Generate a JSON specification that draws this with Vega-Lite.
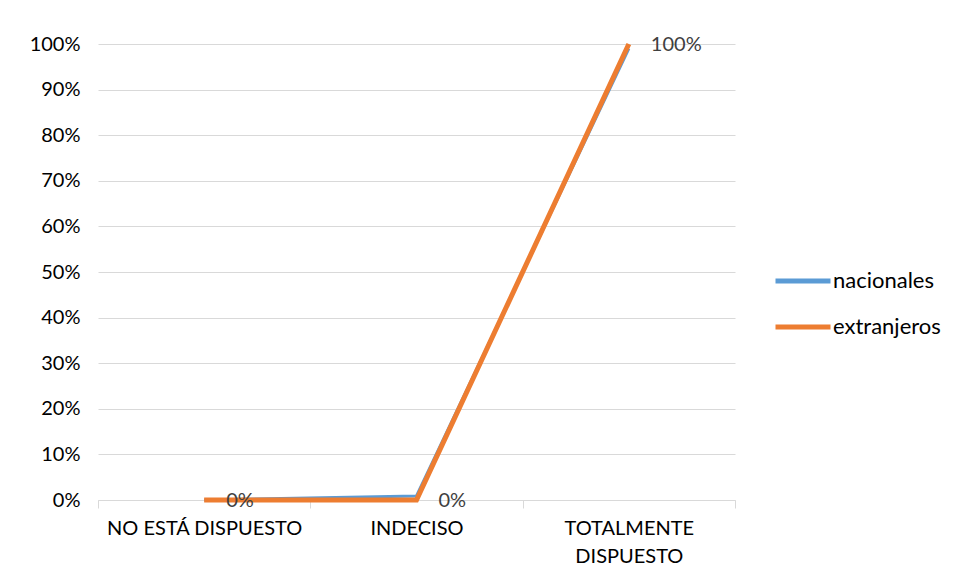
{
  "$schema": "https://vega.github.io/schema/vega-lite/v6.json",
  "autosize": {"type": "none"},
  "width": 637,
  "height": 456,
  "padding": {"left": 98, "top": 44, "right": 219, "bottom": 81},
  "background": "white",
  "config": {
    "view": {"stroke": null},
    "font": "Lato"
  },
  "data": {
    "values": [
      {"cat": "NO ESTÁ DISPUESTO", "serie": "nacionales", "valor": 0.0, "label": ""},
      {"cat": "INDECISO", "serie": "nacionales", "valor": 0.009, "label": ""},
      {"cat": "TOTALMENTE DISPUESTO", "serie": "nacionales", "valor": 0.99, "label": ""},
      {"cat": "NO ESTÁ DISPUESTO", "serie": "extranjeros", "valor": 0.0, "label": "0%"},
      {"cat": "INDECISO", "serie": "extranjeros", "valor": 0.0, "label": "0%"},
      {"cat": "TOTALMENTE DISPUESTO", "serie": "extranjeros", "valor": 1.0, "label": "100%"}
    ]
  },
  "encoding": {
    "x": {
      "field": "cat",
      "type": "nominal",
      "sort": null,
      "bandPosition": 0.5,
      "scale": {"type": "band", "paddingInner": 0, "paddingOuter": 0},
      "axis": {
        "title": null,
        "labelAngle": 0,
        "labelFontSize": 20,
        "labelColor": "#000000",
        "labelPadding": 10,
        "labelLineHeight": 28,
        "labelLimit": 400,
        "labelOverlap": false,
        "labelExpr": "datum.label == 'TOTALMENTE DISPUESTO' ? ['TOTALMENTE', 'DISPUESTO'] : datum.label",
        "domainColor": "#d9d9d9",
        "tickColor": "#d9d9d9",
        "tickSize": 8,
        "tickBand": "extent",
        "grid": false
      }
    },
    "y": {
      "field": "valor",
      "type": "quantitative",
      "scale": {"domain": [0, 1], "nice": false},
      "axis": {
        "title": null,
        "format": ".0%",
        "values": [0, 0.1, 0.2, 0.3, 0.4, 0.5, 0.6, 0.7, 0.8, 0.9, 1.0],
        "labelOverlap": false,
        "domain": false,
        "ticks": false,
        "labelPadding": 18,
        "labelFontSize": 20,
        "labelColor": "#000000",
        "gridColor": "#d9d9d9",
        "gridWidth": 1
      }
    }
  },
  "layer": [
    {
      "transform": [{"filter": "datum.serie == 'nacionales'"}],
      "mark": {"type": "line", "strokeWidth": 3, "color": "#5B9BD5"},
      "encoding": {
        "color": {
          "field": "serie",
          "type": "nominal",
          "scale": {"domain": ["nacionales", "extranjeros"], "range": ["#5B9BD5", "#ED7D31"]},
          "legend": {
            "title": null,
            "orient": "none",
            "legendX": 675,
            "legendY": 226,
            "symbolType": "stroke",
            "symbolSize": 3025,
            "symbolStrokeWidth": 5,
            "clipHeight": 22,
            "rowPadding": 24,
            "labelOffset": 0,
            "labelFontSize": 22,
            "labelColor": "#000000"
          }
        }
      }
    },
    {
      "transform": [{"filter": "datum.serie == 'extranjeros'"}],
      "mark": {"type": "line", "strokeWidth": 5, "color": "#ED7D31"},
      "encoding": {
        "color": {"field": "serie", "type": "nominal"}
      }
    },
    {
      "transform": [{"filter": "datum.label != ''"}],
      "mark": {"type": "text", "align": "left", "baseline": "middle", "dx": 22, "dy": 1, "fontSize": 20, "color": "#404040"},
      "encoding": {
        "text": {"field": "label"}
      }
    }
  ]
}
